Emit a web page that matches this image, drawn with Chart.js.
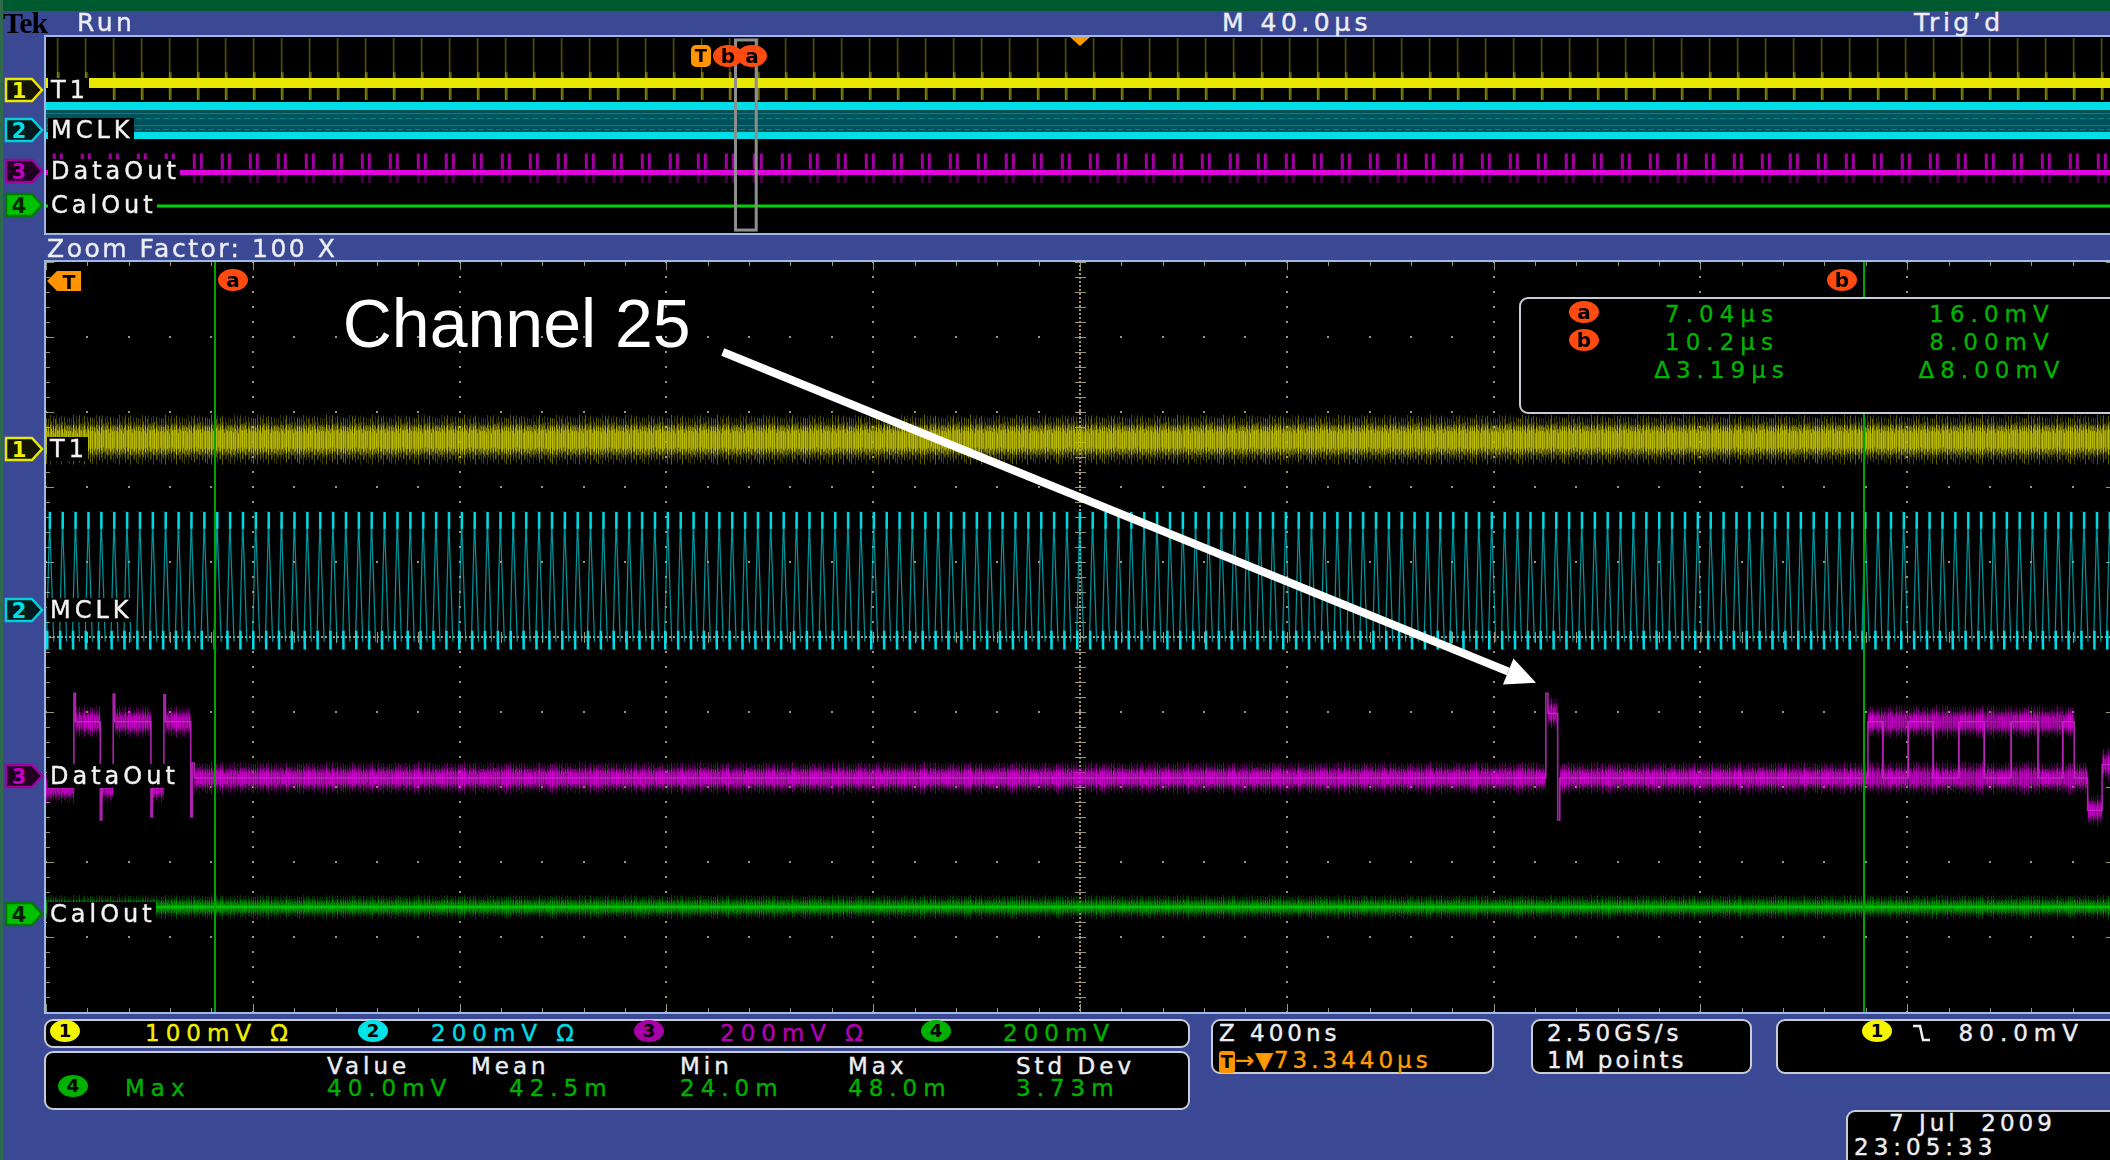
<!DOCTYPE html>
<html>
<head>
<meta charset="utf-8">
<title>DataOut - Channel 25</title>
<script src="https://cdn.jsdelivr.net/npm/chart.js@4.4.1/dist/chart.umd.min.js"></script>
<style>
  html, body { margin: 0; padding: 0; }
  body {
    width: 2110px; height: 1160px; overflow: hidden; position: relative;
    background: #3b4995;
    font-family: "DejaVu Sans", "Liberation Sans", sans-serif;
    color: #eceef4;
  }
  .abs { position: absolute; white-space: pre; }
  .frame { position: absolute; border: 2px solid #9cb9ea; }
  canvas { display: block; background: #000; }
  .panel { position: absolute; background: #000; border: 2px solid #c9ccd6; border-radius: 9px; box-sizing: border-box; }
  .t22 { font-size: 25px; line-height: 26px; letter-spacing: 3.5px; -webkit-text-stroke: 0.4px currentColor; }
  .t21 { font-size: 23px; line-height: 26px; letter-spacing: 6px; -webkit-text-stroke: 0.4px currentColor; }
  .chip { display: inline-block; width: 30px; height: 22px; border-radius: 50%; text-align: center;
          color: #000; font-size: 18px; line-height: 22px; font-weight: bold; letter-spacing: 0; -webkit-text-stroke: 0; }
  .lbl { background: #000; color: #f2f2f2; font-size: 24px; line-height: 24px; letter-spacing: 4px; padding: 0 0 0 3px;
         -webkit-text-stroke: 0.4px currentColor; }
</style>
</head>
<body>
<div class="abs" style="left:0;top:0;width:2110px;height:11px;background:#005a30"></div>
<div class="abs" style="left:0;top:0;width:3px;height:1160px;background:#2f6a4a"></div>

<div class="frame" style="left:44px;top:35px;width:2068px;height:196px">
  <canvas id="overview" width="2068" height="196"></canvas>
</div>
<div class="frame" style="left:44px;top:260px;width:2068px;height:750px">
  <canvas id="zoom" width="2068" height="750"></canvas>
</div>

<div class="panel" style="left:44px;top:1019px;width:1146px;height:29px"></div>
<div class="panel" style="left:44px;top:1051px;width:1146px;height:59px"></div>
<div class="panel" style="left:1211px;top:1019px;width:283px;height:55px"></div>
<div class="panel" style="left:1531px;top:1019px;width:221px;height:55px"></div>
<div class="panel" style="left:1776px;top:1019px;width:350px;height:55px"></div>
<div class="panel" style="left:1846px;top:1110px;width:300px;height:60px"></div>
<div class="panel" style="left:1519px;top:297px;width:620px;height:117px"></div>

<script>
// ---------- acquisition values ----------
const zoomWindowUs = [6.713, 10.713];          // 400 ns/div x 10
const overviewWindowUs = [-126.656, 273.344];  // 40 us/div x 10
const expansionPointUs = 73.344;
const cursorTimesUs = [7.04, 10.23];
const cursorLevelsMv = [16.0, 8.00];
const t1PulsePeriodUs = 5.42;
const mclkPeriodUs = 0.025;

const channelIds = ['1', '2', '3', '4'];
const channelNames = ['T1', 'MCLK', 'DataOut', 'CalOut'];
const channelScales = ['100mV Ω', '200mV Ω', '200mV Ω', '200mV'];
const zoomOffsetsDiv = [2.51, 0.36, -1.85, -3.69];
const overviewOffsets = [7.30, 5.26, 3.16, 1.43];

// zoom window traces (divisions)
const t1Times = [6.713, 10.713];
const t1Levels = [2.63, 2.63];
const mclkTimes = [6.713, 10.713];
const mclkHigh = [1.67, 1.67];
const mclkLow = [-0.17, -0.17];
const calTimes = [6.713, 10.713];
const calLevels = [-3.60, -3.60];

// DataOut: each level holds until the next time
const dataTimes = [6.713, 6.767, 6.770, 6.818, 6.821, 6.843, 6.846, 6.916, 6.919, 6.941, 6.944,
  6.993, 6.996, 7.000, 9.614, 9.618, 9.637, 9.641, 10.237, 10.266, 10.315, 10.363, 10.413,
  10.462, 10.514, 10.566, 10.614, 10.636, 10.662, 10.690, 10.713];
const dataLevels = [-2.01, -0.75, -1.13, -2.44, -2.01, -0.76, -1.13, -2.40, -2.01, -0.77, -1.13,
  -2.40, -1.68, -1.88, -0.75, -1.02, -2.44, -1.88, -1.13, -1.88, -1.13, -1.88, -1.13,
  -1.88, -1.13, -1.88, -1.13, -1.88, -2.31, -1.70, -1.70];
// second acquisition overlaid inside the burst after cursor b
const dataAltTimes = [10.237, 10.266, 10.315, 10.363, 10.413, 10.462, 10.514, 10.566, 10.614, 10.636];
const dataAltLevels = [-1.88, -1.13, -1.88, -1.13, -1.88, -1.13, -1.88, -1.13, -1.88, -1.88];

// overview record (0..10 units, bottom to top)
const ovTimes = [-126.656, 273.344];
const ovT1 = [7.65, 7.65];
const ovT1SpikeTop = [9.95, 9.95];
const ovT1SpikeBottom = [6.79, 6.79];
const ovMclkTop = [6.68, 6.68];
const ovMclkBottom = [4.80, 4.80];
const ovMclkHi = [6.48, 6.48];
const ovMclkLo = [4.97, 4.97];
const ovData = [3.09, 3.09];
const ovDataBurstTop = [4.34, 4.34];
const ovDataBurstBottom = [2.45, 2.45];
const ovCal = [1.38, 1.38];

const noteText = 'Channel 25';
const noteAt = [7.287, 3.87];
const arrowFrom = [8.022, 3.80];
const arrowTo = [9.595, -0.61];

// ---------- textures ----------
const FUZZ_H = [0.92, 0.64, 0.81, 0.55, 1.0, 0.72, 0.6, 0.88, 0.5, 0.77, 0.95, 0.58,
  0.7, 0.84, 0.62, 0.99, 0.67, 0.53, 0.86, 0.74, 0.6, 0.9, 0.57];
const FUZZ_A = [0.95, 0.6, 0.8, 0.45, 0.7, 0.9, 0.55, 0.75, 0.65, 1.0, 0.5];

function tile(w, h, draw) {
  const c = document.createElement('canvas');
  c.width = Math.max(1, Math.round(w));
  c.height = Math.max(1, Math.round(h));
  draw(c.getContext('2d'), c.width, c.height);
  return c;
}

function noiseTile(rgb, h) {
  return tile(FUZZ_H.length * FUZZ_A.length, h, (g, w, H) => {
    const mid = H / 2;
    for (let i = 0; i < w; i++) {
      const hh = FUZZ_H[i % FUZZ_H.length] * mid;
      const a = FUZZ_A[i % FUZZ_A.length];
      const shift = (FUZZ_H[(i * 7) % FUZZ_H.length] - 0.75) * H * 0.16;
      g.fillStyle = `rgba(${rgb},${(a * 0.55).toFixed(3)})`;
      g.fillRect(i, mid + shift - hh, 1, 2 * hh);
      g.fillStyle = `rgba(${rgb},${Math.min(1, a * 1.1).toFixed(3)})`;
      g.fillRect(i, mid + shift * 0.5 - hh * 0.6, 1, hh * 1.2);
    }
  });
}

function clockTile(rgb, period, h) {
  const n = 8;
  return tile(period * n, h, (g, w, H) => {
    const p = w / n;
    g.lineWidth = 1.2;
    for (let k = 0; k < n; k++) {
      const o = k * p;
      g.strokeStyle = `rgba(${rgb},0.7)`;
      g.beginPath();
      g.moveTo(o + 0.5, H - 8);
      g.lineTo(o + 0.28 * p, 8);
      g.lineTo(o + 0.6 * p, H - 8);
      g.stroke();
      g.fillStyle = `rgba(${rgb},1)`;
      g.fillRect(o + 0.2 * p, 0, 2.5, 17);
      g.fillRect(o, H - 19, 2.5, 19);
    }
  });
}

// pattern cached per chart, anchored at a pixel position once the scales exist
function patterned(make, fallback) {
  let cache = null;
  return (c) => {
    const chart = c.chart;
    if (!chart.chartArea) return fallback;
    if (!cache) {
      const [canvas, dx, dy] = make(chart);
      cache = chart.ctx.createPattern(canvas, 'repeat');
      cache.setTransform(new DOMMatrix().translate(dx, dy));
    }
    return cache;
  };
}

function noiseStroke(rgb, level, h) {
  return patterned(ch => [noiseTile(rgb, h), 0, ch.scales.y.getPixelForValue(level) - h / 2], `rgba(${rgb},0.6)`);
}

const pts = (xs, ys) => xs.map((x, i) => ({ x, y: ys[i] }));

// horizontal runs of a step trace, grouped by level
function runs(times, levels, minLen) {
  const byLevel = new Map();
  for (let i = 0; i < times.length - 1; i++) {
    if (times[i + 1] - times[i] < minLen) continue;
    const v = levels[i];
    if (!byLevel.has(v)) byLevel.set(v, []);
    byLevel.get(v).push({ x: times[i], y: v }, { x: times[i + 1], y: v }, { x: times[i + 1], y: null });
  }
  return byLevel;
}

function noiseSets(times, levels, rgb, h, order) {
  const out = [];
  runs(times, levels, 0.01).forEach((data, level) => {
    out.push({ data, borderWidth: h, borderColor: noiseStroke(rgb, level, h), spanGaps: false, order });
  });
  return out;
}

// ---------- plugins ----------
const graticule = {
  id: 'graticule',
  beforeDatasetsDraw(chart, args, o) {
    const { ctx, chartArea: a, scales: { x, y } } = chart;
    const xs = [], ys = [];
    for (let i = 0; i <= o.xDivs * 5; i++) xs.push(Math.round(x.getPixelForValue(x.min + i * (x.max - x.min) / (o.xDivs * 5))));
    for (let j = 0; j <= o.yDivs * 5; j++) ys.push(Math.round(y.getPixelForValue(y.min + j * (y.max - y.min) / (o.yDivs * 5))));
    const cx = xs[o.xDivs * 5 / 2], cy = ys[o.yDivs * 5 / 2];
    ctx.save();
    ctx.fillStyle = o.color;
    const dot = (px, py) => ctx.fillRect(px - 1, py - 1, 2, 2);
    for (let i = 5; i < xs.length - 1; i += 5) if (xs[i] !== cx) ys.forEach(py => dot(xs[i], py));
    for (let j = 5; j < ys.length - 1; j += 5) if (ys[j] !== cy) xs.forEach(px => dot(px, ys[j]));
    for (let py = a.top; py <= a.bottom; py += 4) dot(cx, py);
    for (let px = a.left; px <= a.right; px += 4) dot(px, cy);
    ys.forEach(py => ctx.fillRect(cx - 5, py, 11, 1));
    xs.forEach(px => ctx.fillRect(px, cy - 5, 1, 11));
    xs.forEach((px, i) => {
      const len = i % 5 ? 4 : 8;
      ctx.fillRect(px, a.top, 1, len);
      ctx.fillRect(px, a.bottom - len, 1, len);
    });
    ys.forEach((py, j) => {
      const len = j % 5 ? 4 : 8;
      ctx.fillRect(a.left, py, len, 1);
      ctx.fillRect(a.right - len, py, len, 1);
    });
    ctx.restore();
  }
};

const zoomMarks = {
  id: 'zoomMarks',
  afterDatasetsDraw(chart) {
    const { ctx, chartArea: a, scales: { x, y } } = chart;
    ctx.save();
    ctx.strokeStyle = '#00a400';
    ctx.lineWidth = 2;
    cursorTimesUs.forEach(t => {
      const px = Math.round(x.getPixelForValue(t));
      ctx.beginPath(); ctx.moveTo(px, a.top); ctx.lineTo(px, a.bottom); ctx.stroke();
    });
    // call-out arrow
    const x0 = x.getPixelForValue(arrowFrom[0]), y0 = y.getPixelForValue(arrowFrom[1]);
    const x1 = x.getPixelForValue(arrowTo[0]), y1 = y.getPixelForValue(arrowTo[1]);
    const ang = Math.atan2(y1 - y0, x1 - x0), head = 30, half = 14;
    const bx = x1 - head * Math.cos(ang), by = y1 - head * Math.sin(ang);
    ctx.strokeStyle = '#fff'; ctx.fillStyle = '#fff'; ctx.lineWidth = 8; ctx.lineCap = 'butt';
    ctx.beginPath(); ctx.moveTo(x0, y0); ctx.lineTo(bx, by); ctx.stroke();
    ctx.beginPath();
    ctx.moveTo(x1, y1);
    ctx.lineTo(bx + half * Math.sin(ang), by - half * Math.cos(ang));
    ctx.lineTo(bx - half * Math.sin(ang), by + half * Math.cos(ang));
    ctx.closePath(); ctx.fill();
    ctx.font = '68px "Liberation Sans", Arial, sans-serif';
    ctx.textBaseline = 'alphabetic';
    ctx.fillText(noteText, x.getPixelForValue(noteAt[0]), y.getPixelForValue(noteAt[1]));
    ctx.restore();
  }
};

const overviewMarks = {
  id: 'overviewMarks',
  afterDatasetsDraw(chart) {
    const { ctx, chartArea: a, scales: { x, y } } = chart;
    ctx.save();
    const l = x.getPixelForValue(zoomWindowUs[0]), r = x.getPixelForValue(zoomWindowUs[1]);
    ctx.strokeStyle = '#8e8e8e'; ctx.lineWidth = 3;
    ctx.strokeRect(l, y.getPixelForValue(9.85), r - l, y.getPixelForValue(0.15) - y.getPixelForValue(9.85));
    const ex = x.getPixelForValue(expansionPointUs);
    ctx.fillStyle = '#ff9c00';
    ctx.beginPath(); ctx.moveTo(ex - 10, a.top); ctx.lineTo(ex + 10, a.top); ctx.lineTo(ex, a.top + 9); ctx.closePath(); ctx.fill();
    ctx.restore();
  }
};

function baseOptions(xr, yr, plugins) {
  return {
    responsive: false, animation: false, events: [],
    layout: { padding: 0 },
    plugins: Object.assign({ legend: { display: false }, tooltip: { enabled: false } }, plugins),
    elements: { point: { radius: 0 }, line: { tension: 0, borderCapStyle: 'butt', fill: false } },
    scales: {
      x: { type: 'linear', min: xr[0], max: xr[1], display: false },
      y: { type: 'linear', min: yr[0], max: yr[1], display: false }
    }
  };
}

// ---------- zoom window ----------
const zoomSets = [
  { data: pts(mclkTimes, mclkHigh), borderWidth: 0, borderColor: 'transparent', fill: '+1', order: 5,
    backgroundColor: patterned(ch => {
      const { x, y } = ch.scales;
      const top = y.getPixelForValue(mclkHigh[0]), bottom = y.getPixelForValue(mclkLow[0]);
      const period = x.getPixelForValue(x.min + mclkPeriodUs) - x.getPixelForValue(x.min);
      return [clockTile('0,222,232', period, bottom - top), 0, top];
    }, 'rgba(0,200,210,0.4)') },
  { data: pts(mclkTimes, mclkLow), borderWidth: 0, borderColor: 'transparent', order: 5 },
  ...noiseSets(t1Times, t1Levels, '190,190,0', 50, 4),
  ...noiseSets(calTimes, calLevels, '0,150,0', 24, 4),
  { data: pts(calTimes, calLevels), borderWidth: 3, borderColor: 'rgba(0,200,0,0.85)', order: 3 },
  ...noiseSets(dataAltTimes, dataAltLevels, '190,0,190', 34, 4),
  ...noiseSets(dataTimes, dataLevels, '205,0,205', 32, 4),
  { data: pts(dataAltTimes, dataAltLevels), stepped: 'before', borderWidth: 1.5, borderColor: 'rgba(170,20,170,0.75)', order: 2 },
  { data: pts(dataTimes, dataLevels), stepped: 'before', borderWidth: 1.6, borderColor: 'rgba(200,40,200,0.85)', order: 1 }
];

const zoomChart = new Chart(document.getElementById('zoom'), {
  type: 'line',
  data: { datasets: zoomSets },
  options: baseOptions(zoomWindowUs, [-5, 5], { graticule: { xDivs: 10, yDivs: 10, color: 'rgba(165,155,125,0.95)' } }),
  plugins: [graticule, zoomMarks]
});

// ---------- overview record ----------
function ovBand(top, bottom, draw, fallback) {
  return patterned(ch => {
    const { x, y } = ch.scales;
    const t = y.getPixelForValue(top[0]), b = y.getPixelForValue(bottom[0]);
    const period = x.getPixelForValue(x.min + t1PulsePeriodUs) - x.getPixelForValue(x.min);
    return [tile(period, b - t, draw), x.getPixelForValue(0), t];
  }, fallback);
}

const overviewSets = [
  { data: pts(ovTimes, ovT1SpikeTop), borderWidth: 0, borderColor: 'transparent', fill: '+1', order: 9,
    backgroundColor: ovBand(ovT1SpikeTop, ovT1SpikeBottom, (g, w, h) => {
      g.fillStyle = 'rgba(160,160,0,0.55)'; g.fillRect(0, 0, 1.5, h);
      g.fillStyle = 'rgba(190,190,0,0.45)'; g.fillRect(-1, h * 0.55, 4, h * 0.45);
    }, 'transparent') },
  { data: pts(ovTimes, ovT1SpikeBottom), borderWidth: 0, borderColor: 'transparent', order: 9 },
  { data: pts(ovTimes, ovT1), borderWidth: 10, borderColor: '#e8e800', order: 1 },
  { data: pts(ovTimes, ovMclkTop), borderWidth: 0, borderColor: 'transparent', fill: '+1', order: 8,
    backgroundColor: patterned(ch => {
      const y = ch.scales.y;
      const t = y.getPixelForValue(ovMclkTop[0]), b = y.getPixelForValue(ovMclkBottom[0]);
      return [tile(9, b - t, (g, w, h) => {
        g.fillStyle = 'rgba(0,95,105,0.85)'; g.fillRect(0, 0, w, h);
        g.fillStyle = 'rgba(0,160,170,0.7)';
        [0.3, 0.42, 0.62, 0.74].forEach((f, k) => g.fillRect(0, Math.round(h * f), w - (k % 2) * 3, 1));
      }), 0, t];
    }, 'rgba(0,100,110,0.8)') },
  { data: pts(ovTimes, ovMclkBottom), borderWidth: 0, borderColor: 'transparent', order: 8 },
  { data: pts(ovTimes, ovMclkHi), borderWidth: 8, borderColor: '#00dfe8', order: 2 },
  { data: pts(ovTimes, ovMclkLo), borderWidth: 7, borderColor: '#00dfe8', order: 2 },
  { data: pts(ovTimes, ovDataBurstTop), borderWidth: 0, borderColor: 'transparent', fill: '+1', order: 7,
    backgroundColor: ovBand(ovDataBurstTop, ovDataBurstBottom, (g, w, h) => {
      [[-4, -1], [3, 6]].forEach(([s, e]) => {
        [s, s + w].forEach(x0 => {
          g.fillStyle = 'rgba(200,0,200,0.8)'; g.fillRect(x0, h * 0.15, e - s, h * 0.42);
          g.fillStyle = 'rgba(130,0,130,0.55)'; g.fillRect(x0, h * 0.62, e - s, h * 0.33);
        });
      });
    }, 'transparent') },
  { data: pts(ovTimes, ovDataBurstBottom), borderWidth: 0, borderColor: 'transparent', order: 7 },
  { data: pts(ovTimes, ovData), borderWidth: 5, borderColor: '#e000e0', order: 1 },
  { data: pts(ovTimes, ovCal), borderWidth: 3, borderColor: '#00d400', order: 1 }
];

const overviewChart = new Chart(document.getElementById('overview'), {
  type: 'line',
  data: { datasets: overviewSets },
  options: baseOptions(overviewWindowUs, [0, 10], {}),
  plugins: [overviewMarks]
});

// ---------- screen annotations ----------
function put(html, x, yc, cls, style) {
  const d = document.createElement('div');
  d.className = 'abs ' + (cls || '');
  d.style.cssText = `left:${x}px;top:${yc - 13}px;${style || ''}`;
  d.innerHTML = html;
  document.body.appendChild(d);
  return d;
}

const chColor = ['#f0f000', '#00dce6', '#b400b4', '#00b000'];
const chChip = ['#f5f500', '#00e2ea', '#a800a8', '#00b000'];
const markerStyle = [
  ['#e8e800', '#141400', '#f0f000'],
  ['#00d0dc', '#001a1c', '#00e0e8'],
  ['#a000a0', '#200020', '#c400c4'],
  ['#007a00', '#00c000', '#002000']
];

function markerSvg(i) {
  const [s, f, t] = markerStyle[i];
  return `<svg width="40" height="26" viewBox="0 0 40 26"><polygon points="2,2 28,2 38,13 28,24 2,24" fill="${f}" stroke="${s}" stroke-width="2.5"/>` +
    `<text x="15" y="21" font-family="DejaVu Sans" font-weight="bold" font-size="21" text-anchor="middle" fill="${t}">${channelIds[i]}</text></svg>`;
}
const chip = (i, extra) => `<span class="chip" style="background:${chChip[i]};${extra || ''}">${channelIds[i]}</span>`;

function placeChannels(chart, offsets, labelX) {
  const box = chart.canvas.getBoundingClientRect();
  offsets.forEach((v, i) => {
    const yc = Math.round(box.top + chart.scales.y.getPixelForValue(v));
    put(markerSvg(i), 4, yc, '', 'line-height:0');
    put(channelNames[i], labelX, yc + 1, 'lbl');
  });
}
placeChannels(overviewChart, overviewOffsets, 48);
placeChannels(zoomChart, zoomOffsetsDiv, 47);

// cursor and trigger tags
function tag(letter, x, yc, bg) {
  put(`<span class="chip" style="background:${bg};color:#000;font-size:20px">${letter}</span>`, Math.round(x - 15), yc);
}
{
  const ob = overviewChart.canvas.getBoundingClientRect();
  const ox = overviewChart.scales.x;
  const tx = ob.left + ox.getPixelForValue(0);
  put('<span class="chip" style="background:#ff9400;border-radius:5px;width:20px;font-size:18px">T</span>', Math.round(tx - 10), 58);
  tag('b', ob.left + ox.getPixelForValue(cursorTimesUs[1]) - 26, 58, '#ff4a10');
  tag('a', ob.left + ox.getPixelForValue(cursorTimesUs[0]) + 15, 58, '#ff4a10');

  const zb = zoomChart.canvas.getBoundingClientRect();
  const zx = zoomChart.scales.x;
  put('<svg width="36" height="22" viewBox="0 0 36 22"><polygon points="0,11 10,1 34,1 34,21 10,21" fill="#ff9400"/>' +
      '<text x="22" y="19" font-family="DejaVu Sans" font-weight="bold" font-size="19" text-anchor="middle" fill="#000">T</text></svg>',
      47, 283, '', 'line-height:0');
  tag('a', zb.left + zx.getPixelForValue(cursorTimesUs[0]) + 18, 282, '#ff4a10');
  tag('b', zb.left + zx.getPixelForValue(cursorTimesUs[1]) - 22, 282, '#ff4a10');
}

// cursor readout
{
  const g = 'color:#00b400';
  const us = v => v.toPrecision(3) + 'µs';
  const mv = v => v.toPrecision(3) + 'mV';
  const dt = cursorTimesUs[1] - cursorTimesUs[0];
  const dv = Math.abs(cursorLevelsMv[0] - cursorLevelsMv[1]);
  const rows = [
    ['a', us(cursorTimesUs[0]), mv(cursorLevelsMv[0])],
    ['b', us(cursorTimesUs[1]), mv(cursorLevelsMv[1])],
    ['', 'Δ' + us(dt), 'Δ' + mv(dv)]
  ];
  rows.forEach((r, k) => {
    const yc = 314 + k * 28;
    if (r[0]) tag(r[0], 1584, yc, '#ff4a10');
    put(r[1], 1622, yc, 't21', `${g};width:200px;text-align:center`);
    put(r[2], 1892, yc, 't21', `${g};width:200px;text-align:center`);
  });
}

// header
put('Tek', 3, 23, '', 'font-family:"Liberation Serif",serif;font-weight:bold;font-size:30px;line-height:26px;color:#000;letter-spacing:-1px');
put('Run', 77, 23, 't22');
put('M 40.0µs', 1222, 23, 't22', 'letter-spacing:4.5px');
put('Trig\u2019d', 1914, 23, 't22');
put('Zoom Factor: 100 X', 47, 249, 't22', 'letter-spacing:2.5px');

// vertical scale bar
[[65, 145], [373, 431], [649, 720], [936, 1003]].forEach(([cx, tx], i) => {
  put(chip(i), cx - 15, 1033);
  put(channelScales[i], tx, 1033, 't21', `color:${chColor[i]}`);
});

// measurement table
const measHeads = ['Value', 'Mean', 'Min', 'Max', 'Std Dev'];
const measHeadX = [327, 471, 680, 848, 1016];
const measValues = ['40.0mV', '42.5m', '24.0m', '48.0m', '3.73m'];
const measValueX = [327, 509, 680, 848, 1016];
measHeads.forEach((h, i) => put(h, measHeadX[i], 1066, 't21', 'letter-spacing:4px'));
put(chip(3), 58, 1088);
put('Max', 125, 1088, 't21', 'color:#00b000');
measValues.forEach((v, i) => put(v, measValueX[i], 1088, 't21', 'color:#00b000'));

// timebase / acquisition / trigger / clock
put('Z 400ns', 1219, 1033, 't21', 'letter-spacing:4px');
put('<span class="chip" style="background:#ff9400;border-radius:3px;width:16px">T</span><span style="letter-spacing:1px">→▼</span>73.3440µs',
    1219, 1060, 't21', 'color:#ff9a00;letter-spacing:4px');
put('2.50GS/s', 1547, 1033, 't21', 'letter-spacing:4px');
put('1M points', 1547, 1060, 't21', 'letter-spacing:3px');
put(chip(0), 1862, 1033);
put('<svg width="20" height="22" viewBox="0 0 20 22" style="vertical-align:-3px"><polyline points="1,4 8,4 11,18 18,18" fill="none" stroke="#f0f0f0" stroke-width="2.5"/></svg>  80.0mV',
    1912, 1033, 't21');
put('7 Jul  2009', 1889, 1123, 't21', 'letter-spacing:4px');
put('23:05:33', 1854, 1147, 't21', 'letter-spacing:5px');
</script>
</body>
</html>
